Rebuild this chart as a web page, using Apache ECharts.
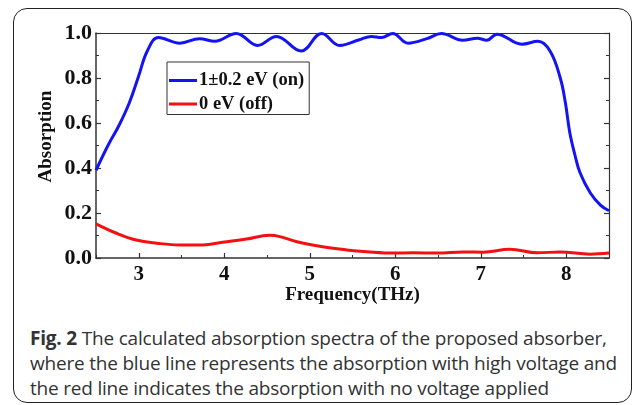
<!DOCTYPE html>
<html>
<head>
<meta charset="utf-8">
<script src="https://cdn.jsdelivr.net/npm/echarts@6/dist/echarts.min.js"></script>
<style>
  html, body { margin: 0; padding: 0; background: #fff; }
  .box { position: relative; width: 635px; height: 405px; overflow: hidden; }
  .frame {
    position: absolute; left: 13px; top: 8px; width: 617px; height: 393px;
    border: 1.5px solid #222; border-radius: 14px;
  }
  #chart { position: absolute; left: 0; top: 0; width: 635px; height: 315px; }
  .caption {
    position: absolute; left: 30px; top: 326px; width: 600px;
    font-family: 'Open Sans', sans-serif; font-size: 19px; line-height: 25px;
    color: #333; letter-spacing: -0.2px;
  }
  .caption b { font-weight: bold; }
</style>
</head>
<body>
<div class="box">
  <div class="frame"></div>
  <div id="chart"></div>
  <div class="caption"><b>Fig. 2</b> The calculated absorption spectra of the proposed absorber, where the blue line represents the absorption with high voltage and the red line indicates the absorption with no voltage applied</div>
</div>
<script>
// 1±0.2 eV (on)
var freqOn = [2.5, 2.64, 2.77, 2.89, 3.0, 3.1, 3.23, 3.48, 3.71, 3.89, 4.14, 4.39, 4.61, 4.9, 5.14, 5.35, 5.58, 5.72, 5.84, 5.97, 6.15, 6.37, 6.54, 6.79, 6.96, 7.07, 7.19, 7.48, 7.67, 7.81, 7.93, 7.99, 8.04, 8.1, 8.16, 8.28, 8.4, 8.5];
var absOn = [0.39, 0.50, 0.59, 0.69, 0.81, 0.92, 0.98, 0.955, 0.975, 0.963, 0.998, 0.945, 0.985, 0.92, 0.998, 0.945, 0.97, 0.985, 0.98, 0.998, 0.955, 0.975, 0.998, 0.968, 0.977, 0.968, 0.995, 0.95, 0.963, 0.92, 0.80, 0.69, 0.56, 0.46, 0.38, 0.29, 0.235, 0.21];
// 0 eV (off)
var freqOff = [2.5, 2.74, 2.97, 3.21, 3.48, 3.75, 3.98, 4.26, 4.53, 4.65, 4.85, 5.15, 5.43, 5.67, 5.98, 6.21, 6.49, 6.8, 7.03, 7.34, 7.66, 7.93, 8.28, 8.5];
var absOff = [0.152, 0.11, 0.08, 0.066, 0.058, 0.058, 0.07, 0.084, 0.101, 0.095, 0.072, 0.05, 0.036, 0.028, 0.022, 0.023, 0.022, 0.027, 0.026, 0.039, 0.023, 0.027, 0.017, 0.022];
var xTicks = [3, 4, 5, 6, 7, 8];
var xMinor = [2.5, 3.5, 4.5, 5.5, 6.5, 7.5, 8.5];

var serif = 'Liberation Serif';
var axisCol = '#333';

function pairs(xs, ys) {
  return xs.map(function (x, i) { return [x, ys[i]]; });
}

var chart = echarts.init(document.getElementById('chart'));
chart.setOption({
  animation: false,
  grid: { left: 96, right: 26, top: 33, bottom: 57 },
  legend: {
    orient: 'vertical',
    left: 167,
    top: 62,
    padding: [9, 5, 1, 2],
    itemGap: 4.5,
    itemWidth: 28,
    itemHeight: 3,
    borderColor: axisCol,
    borderWidth: 1,
    icon: 'rect',
    textStyle: { fontFamily: serif, fontWeight: 'bold', fontSize: 18.5, color: '#111', padding: [0, 0, 0, -3] },
    data: ['1±0.2 eV (on)', '0 eV (off)']
  },
  xAxis: [
    {
      type: 'value',
      min: 2.5,
      max: 8.5,
      name: 'Frequency(THz)',
      nameLocation: 'middle',
      nameGap: 28,
      nameMoveOverlap: false,
      nameTextStyle: { fontFamily: serif, fontWeight: 'bold', fontSize: 19, color: '#111' },
      axisLine: { show: true, lineStyle: { color: axisCol, width: 1.5 } },
      axisTick: { show: true, inside: true, length: 5, customValues: xTicks, lineStyle: { color: axisCol, width: 1.2 } },
      axisLabel: { customValues: xTicks, margin: 6, fontFamily: serif, fontWeight: 'bold', fontSize: 21, color: '#111' },
      splitLine: { show: false }
    },
    {
      type: 'value',
      min: 2.5,
      max: 8.5,
      position: 'bottom',
      axisLine: { show: false },
      axisTick: { show: true, inside: true, length: 3, customValues: xMinor, lineStyle: { color: axisCol, width: 1 } },
      axisLabel: { show: false },
      splitLine: { show: false }
    },
    {
      type: 'value',
      min: 2.5,
      max: 8.5,
      position: 'top',
      axisLine: { show: true, onZero: false, lineStyle: { color: axisCol, width: 1.2 } },
      axisTick: { show: false },
      axisLabel: { show: false },
      splitLine: { show: false }
    }
  ],
  yAxis: [
    {
      type: 'value',
      min: 0,
      max: 1,
      interval: 0.2,
      name: 'Absorption',
      nameLocation: 'middle',
      nameGap: 40,
      nameMoveOverlap: false,
      nameTextStyle: { fontFamily: serif, fontWeight: 'bold', fontSize: 19, color: '#111', padding: [0, 0, 0, 18] },
      axisLine: { show: true, lineStyle: { color: axisCol, width: 1.5 } },
      axisTick: { show: true, inside: true, length: 5, lineStyle: { color: axisCol, width: 1.2 } },
      minorTick: { show: true, splitNumber: 2, length: 3, lineStyle: { color: axisCol, width: 1 } },
      axisLabel: { margin: 4, fontFamily: serif, fontWeight: 'bold', fontSize: 22, color: '#111',
        formatter: function (v) { return v.toFixed(1); } },
      splitLine: { show: false }
    },
    {
      type: 'value',
      min: 0,
      max: 1,
      interval: 0.2,
      position: 'right',
      axisLine: { show: true, lineStyle: { color: axisCol, width: 1.2 } },
      axisTick: { show: true, inside: true, length: 5, lineStyle: { color: axisCol, width: 1.2 } },
      minorTick: { show: true, splitNumber: 2, length: 3, lineStyle: { color: axisCol, width: 1 } },
      axisLabel: { show: false },
      splitLine: { show: false }
    }
  ],
  series: [
    {
      name: '1±0.2 eV (on)',
      type: 'line',
      smooth: 0.4,
      showSymbol: false,
      color: '#1414f0',
      lineStyle: { width: 3 },
      data: pairs(freqOn, absOn)
    },
    {
      name: '0 eV (off)',
      type: 'line',
      smooth: 0.4,
      showSymbol: false,
      color: '#f21010',
      lineStyle: { width: 3 },
      data: pairs(freqOff, absOff)
    }
  ]
});
</script>
</body>
</html>
